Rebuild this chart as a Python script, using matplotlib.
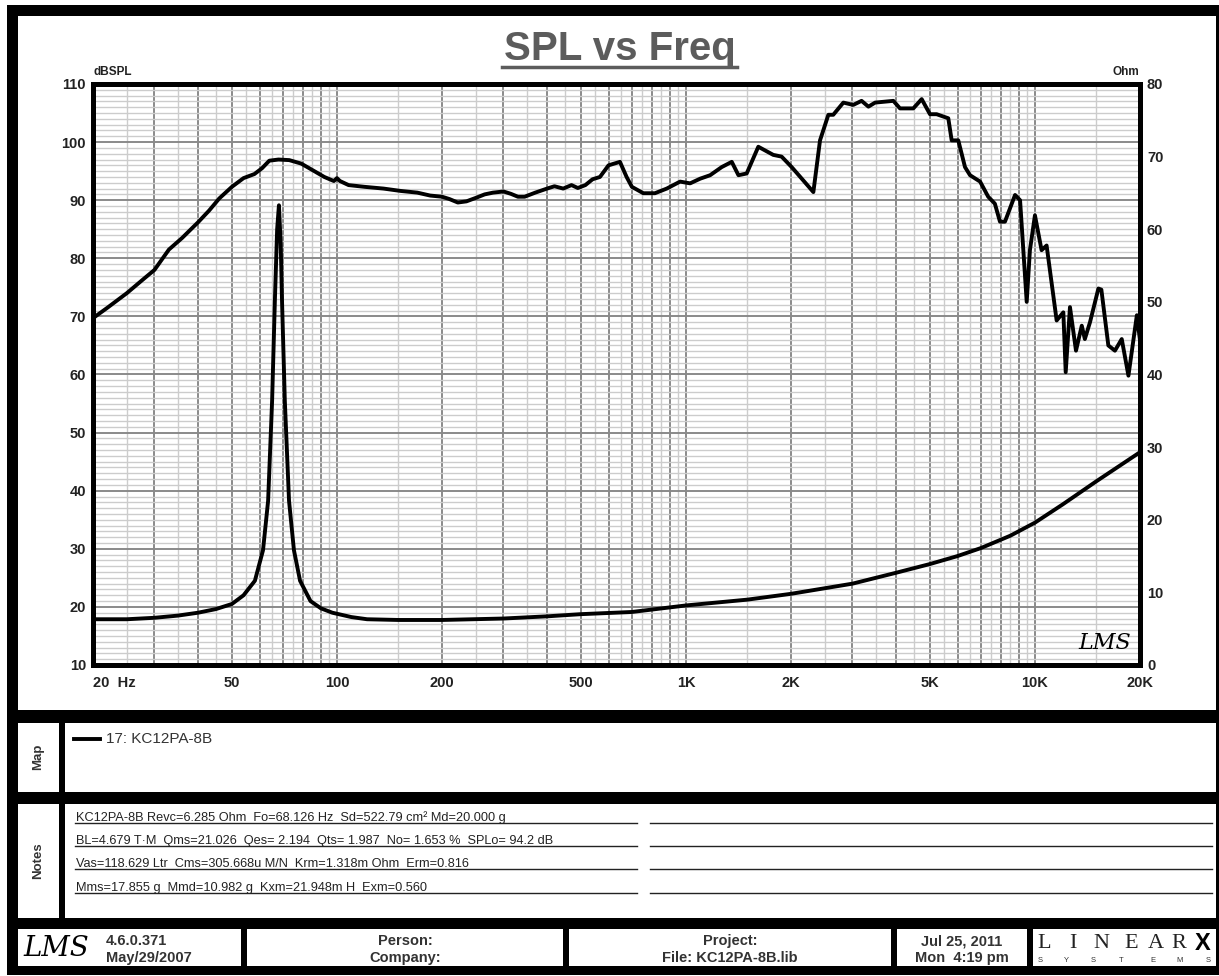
import numpy as np
import matplotlib.pyplot as plt
from matplotlib.patches import Rectangle
from matplotlib.lines import Line2D
from matplotlib.ticker import FixedLocator, NullFormatter

plt.rcParams['font.family'] = ['Liberation Sans', 'DejaVu Sans']

W, H = 1219, 976

#----------- data -----------------------------------
spl_freq = [20, 22, 25, 28, 30, 33, 36, 40, 43, 46, 50, 54, 58, 61, 64, 68, 73, 79, 85, 92,
            98, 100, 102, 108, 120, 136, 152, 170, 185, 200, 210, 222, 235, 250, 265, 280,
            300, 315, 330, 345, 370, 400, 420, 445, 470, 490, 515, 540, 567, 600, 647, 676,
            700, 755, 815, 881, 962, 1028, 1098, 1173, 1266, 1353, 1414, 1493, 1612, 1779,
            1880, 2009, 2169, 2318, 2422, 2559, 2643, 2825, 3015, 3186, 3333, 3484, 3929,
            4105, 4482, 4737, 5003, 5228, 5646, 5773, 6030, 6304, 6517, 6964, 7346, 7677,
            7940, 8205, 8770, 9065, 9471, 9674, 10000, 10447, 10800, 11540, 12060, 12250,
            12600, 13110, 13620, 13900, 14380, 15200, 15500, 16230, 16950, 17730, 18530,
            19590, 20000]
spl_db = [69.7, 71.5, 74.0, 76.5, 78.0, 81.5, 83.5, 86.2, 88.2, 90.3, 92.3, 93.8, 94.5, 95.5,
          96.8, 97.0, 96.9, 96.3, 95.2, 94.0, 93.3, 93.8, 93.3, 92.6, 92.3, 92.0, 91.6, 91.3,
          90.8, 90.6, 90.2, 89.6, 89.8, 90.4, 91.0, 91.3, 91.5, 91.1, 90.6, 90.6, 91.3, 92.0,
          92.4, 92.0, 92.6, 92.1, 92.6, 93.6, 94.0, 96.0, 96.6, 94.0, 92.3, 91.2, 91.2, 92.0,
          93.2, 92.9, 93.7, 94.3, 95.7, 96.6, 94.3, 94.6, 99.2, 97.8, 97.5, 95.7, 93.4, 91.4,
          100.3, 104.7, 104.7, 106.8, 106.4, 107.1, 106.1, 106.8, 107.1, 105.8, 105.8, 107.4,
          104.8, 104.8, 104.1, 100.3, 100.3, 95.7, 94.3, 93.2, 90.6, 89.4, 86.3, 86.3, 90.9,
          90.0, 72.5, 81.4, 87.4, 81.4, 82.2, 69.3, 70.7, 60.4, 71.6, 64.1, 68.4, 66.1, 69.0,
          74.8, 74.6, 65.0, 64.1, 66.1, 59.8, 70.2, 65.9]

imp_freq = [20, 25, 30, 35, 40, 45, 50, 54, 58.2, 61.4, 63.5, 65.2, 66.4, 67.4, 68.2, 69.0,
            69.6, 70.9, 72.9, 75.3, 78.4, 84, 90, 97, 110, 122, 150, 200, 300, 400, 500, 700,
            1000, 1500, 2000, 3000, 4000, 5000, 6000, 7000, 8500, 10000, 12000, 15000, 20000]
imp_ohm = [6.3, 6.3, 6.5, 6.8, 7.2, 7.7, 8.4, 9.6, 11.6, 15.8, 22.6, 36.4, 50.2, 60.0, 63.3,
           58.0, 50.2, 36.4, 22.6, 15.8, 11.6, 8.8, 7.8, 7.2, 6.6, 6.3, 6.2, 6.2, 6.4, 6.7,
           7.0, 7.3, 8.2, 9.0, 9.8, 11.2, 12.7, 13.9, 15.0, 16.1, 17.8, 19.6, 22.1, 25.3, 29.3]

x_tick_pos = [20, 50, 100, 200, 500, 1000, 2000, 5000, 10000, 20000]
x_tick_lab = ['20  Hz', '50', '100', '200', '500', '1K', '2K', '5K', '10K', '20K']
db_ticks = list(range(10, 111, 10))
ohm_ticks = list(range(0, 81, 10))

notes_lines = ['KC12PA-8B Revc=6.285 Ohm  Fo=68.126 Hz  Sd=522.79 cm\u00b2 Md=20.000 g',
               'BL=4.679 T\u00b7M  Qms=21.026  Qes= 2.194  Qts= 1.987  No= 1.653 %  SPLo= 94.2 dB',
               'Vas=118.629 Ltr  Cms=305.668u M/N  Krm=1.318m Ohm  Erm=0.816',
               'Mms=17.855 g  Mmd=10.982 g  Kxm=21.948m H  Exm=0.560']


def fx(x):
    return x / W


def fy(y):
    return 1 - y / H


fig = plt.figure(figsize=(W / 100, H / 100), dpi=100)


def box(x0, y0, x1, y1, color='white', z=-2):
    fig.add_artist(Rectangle((fx(x0), fy(y1)), (x1 - x0) / W, (y1 - y0) / H,
                             transform=fig.transFigure, facecolor=color,
                             edgecolor='none', zorder=z))


def hline(x0, x1, y, lw=1.0, color='#222222'):
    fig.add_artist(Line2D([fx(x0), fx(x1)], [fy(y), fy(y)], lw=lw, color=color,
                          transform=fig.transFigure))


#----------- frame and panels ----------------
box(7, 5, 1219, 975, color='black', z=-3)
box(18, 16, 1216, 710)
box(18, 723, 59, 792)
box(65, 723, 1216, 792)
box(18, 804, 59, 918)
box(65, 804, 1216, 918)
for x0, x1 in [(18, 241), (247, 563), (569, 891), (897, 1027), (1033, 1216)]:
    box(x0, 929, x1, 966)

#----------- main plot ----------------
ax = fig.add_axes([fx(93), fy(665), (1140 - 93) / W, (665 - 84) / H])
ax.set_xscale('log')
ax.set_xlim(20, 20000)
ax.set_ylim(10, 110)

major_v = [n * 10 ** k for k in range(1, 5) for n in range(1, 10) if 20 <= n * 10 ** k <= 20000]
minor_v = [(n + 0.5) * 10 ** k for k in range(1, 5) for n in range(1, 10)
           if 20 < (n + 0.5) * 10 ** k < 20000]
ax.xaxis.set_major_locator(FixedLocator(major_v))
ax.set_xticklabels([x_tick_lab[x_tick_pos.index(v)] if v in x_tick_pos else '' for v in major_v])
ax.xaxis.set_minor_locator(FixedLocator(minor_v))
ax.xaxis.set_minor_formatter(NullFormatter())
ax.set_yticks(db_ticks)
ax.yaxis.set_minor_locator(FixedLocator(list(range(10, 111))))

ax.set_axisbelow(True)
ax.grid(which='major', color='#8a8a8a', lw=1.4)
ax.grid(which='minor', color='#cccccc', lw=1.0)
ax.tick_params(which='both', length=0)
ax.tick_params(axis='x', pad=8, labelsize=10.5, labelcolor='#222222')
ax.tick_params(axis='y', pad=5, labelsize=10.5, labelcolor='#222222')
for lab in ax.get_xticklabels() + ax.get_yticklabels():
    lab.set_fontweight('bold')
ax.get_xticklabels()[0].set_ha('left')

ax.plot(spl_freq, spl_db, color='black', lw=2.8, solid_joinstyle='round')

ax2 = ax.twinx()
ax2.set_ylim(0, 80)
ax2.set_yticks(ohm_ticks)
ax2.tick_params(length=0, pad=5, labelsize=10.5, labelcolor='#222222')
for lab in ax2.get_yticklabels():
    lab.set_fontweight('bold')
ax2.plot(imp_freq, imp_ohm, color='black', lw=2.8, solid_joinstyle='round')

for a in (ax, ax2):
    for s in a.spines.values():
        s.set_linewidth(3.6)
        s.set_color('black')

#----------- texts ----------------
fig.text(fx(620), fy(60), 'SPL vs Freq', ha='center', va='baseline', fontsize=29,
         fontweight='bold', color='#5c5c5c')
hline(502, 737, 67, lw=2.5, color='#5c5c5c')
fig.text(fx(93), fy(72), 'dBSPL', ha='left', va='center', fontsize=8.5, fontweight='bold',
         color='#222222')
fig.text(fx(1139), fy(72), 'Ohm', ha='right', va='center', fontsize=8.5, fontweight='bold',
         color='#222222')
fig.text(fx(1105), fy(643), 'LMS', ha='center', va='center', fontsize=16,
         family='DejaVu Serif', style='italic')

# map panel
fig.text(fx(38), fy(757), 'Map', rotation=90, ha='center', va='center', fontsize=9.5,
         fontweight='bold', color='#333333')
hline(74, 100, 739, lw=2.8, color='black')
fig.text(fx(106), fy(739), '17: KC12PA-8B', ha='left', va='center', fontsize=11,
         color='#333333')

# notes panel
fig.text(fx(38), fy(861), 'Notes', rotation=90, ha='center', va='center', fontsize=9.5,
         fontweight='bold', color='#333333')
for txt, yl in zip(notes_lines, [823, 846, 869, 893]):
    fig.text(fx(76), fy(yl - 2), txt, ha='left', va='baseline', fontsize=9.2, color='#222222')
    hline(75, 637, yl)
    hline(650, 1212, yl)

# footer
fig.text(fx(56), fy(948), 'LMS', ha='center', va='center', fontsize=20,
         family='DejaVu Serif', style='italic')
fig.text(fx(106), fy(941), '4.6.0.371', ha='left', va='center', fontsize=10.5,
         fontweight='bold', color='#333333')
fig.text(fx(106), fy(958), 'May/29/2007', ha='left', va='center', fontsize=10.5,
         fontweight='bold', color='#333333')
for cx, t1, t2 in [(405, 'Person:', 'Company:'), (730, 'Project:', 'File: KC12PA-8B.lib'),
                   (962, 'Jul 25, 2011', 'Mon  4:19 pm')]:
    fig.text(fx(cx), fy(941), t1, ha='center', va='center', fontsize=10.5,
             fontweight='bold', color='#333333')
    fig.text(fx(cx), fy(958), t2, ha='center', va='center', fontsize=10.5,
             fontweight='bold', color='#333333')

for ch, cx in zip('LINEAR', [1044, 1073, 1101, 1131, 1156, 1179]):
    fig.text(fx(cx), fy(944), ch, ha='center', va='center', fontsize=16,
             family='Liberation Serif', color='#222222')
fig.text(fx(1203), fy(943), 'X', ha='center', va='center', fontsize=17,
         fontweight='bold', color='black')
for ch, cx in zip('SYSTEMS', [1040, 1066, 1093, 1121, 1153, 1180, 1208]):
    fig.text(fx(cx), fy(961), ch, ha='center', va='center', fontsize=5.5,
             color='#333333')

fig.savefig('out.png', dpi=100)
